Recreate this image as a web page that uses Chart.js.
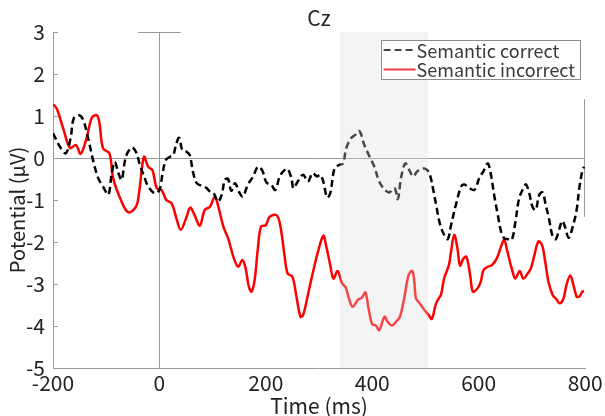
<!DOCTYPE html>
<html><head><meta charset="utf-8">
<script src="https://cdn.jsdelivr.net/npm/chart.js@4"></script>
<style>html,body{margin:0;padding:0;background:#fff}canvas{display:block}</style>
</head><body>
<canvas id="c" width="605" height="416"></canvas>
<script>
const chartTitle = 'Cz';
const xAxisTitle = 'Time (ms)';
const yAxisTitle = 'Potential (\u03BCV)';
const seriesLabels = ['Semantic correct', 'Semantic incorrect'];
const xTickValues = [-200, 0, 200, 400, 600, 800];
const yTickValues = [-5, -4, -3, -2, -1, 0, 1, 2, 3];
const windowRange = [340, 505];

const correctTimes = [-200,-187,-176,-167,-161,-151,-143,-134,-124,-115,-106,-96,-90,-84,-77,-71,-63,-52,-44,-37,-27,-21,-9,0,6,12,20,26,31,37,43,51,57,63,70,79,88,95,102,110,117,123,129,135,142,151,157,166,176,185,193,201,210,218,226,235,241,248,252,260,270,279,288,296,302,308,315,321,329,337,345,351,360,368,376,385,395,404,413,423,432,442,448,454,462,470,477,485,498,507,514,520,527,535,542,548,557,567,573,582,592,601,609,617,623,629,636,642,648,654,662,669,676,684,689,695,701,707,714,720,726,732,739,745,751,757,762,769,776,784,789,795,798];
const correctValues = [0.59,0.27,0.11,0.47,0.94,1.02,0.90,0.47,-0.09,-0.48,-0.68,-0.87,-0.40,-0.09,-0.36,-0.52,0.03,0.25,0.14,-0.15,-0.50,-0.68,-0.84,-0.76,-0.36,-0.05,0.03,0.07,0.31,0.48,0.19,0.15,0.07,-0.33,-0.60,-0.66,-0.71,-0.80,-0.84,-1.04,-0.88,-0.52,-0.50,-0.78,-0.60,-0.84,-0.92,-0.64,-0.44,-0.21,-0.29,-0.58,-0.64,-0.76,-0.44,-0.29,-0.26,-0.48,-0.72,-0.56,-0.40,-0.56,-0.36,-0.44,-0.40,-0.56,-0.94,-0.84,-0.25,-0.17,-0.13,0.23,0.47,0.55,0.64,0.31,0.03,-0.21,-0.56,-0.75,-0.82,-0.72,-0.98,-0.48,-0.13,-0.30,-0.44,-0.31,-0.25,-0.36,-0.72,-1.12,-1.56,-1.83,-1.93,-1.60,-1.12,-0.68,-0.63,-0.71,-0.76,-0.48,-0.31,-0.13,-0.40,-0.88,-1.36,-1.75,-1.91,-1.93,-1.95,-1.52,-0.96,-0.72,-0.63,-0.84,-1.16,-1.24,-0.87,-0.82,-1.12,-1.44,-1.87,-1.93,-1.71,-1.50,-1.63,-1.90,-1.67,-1.24,-0.72,-0.29,-0.21];

const incorrectTimes = [-200,-193,-181,-168,-157,-148,-137,-127,-118,-113,-106,-94,-87,-74,-59,-44,-38,-29,-21,-13,-5,4,13,23,32,40,50,58,66,76,85,95,104,110,120,129,140,148,156,162,168,173,179,185,191,200,207,220,227,235,241,250,257,265,270,279,288,298,308,313,321,327,335,343,350,356,363,373,381,387,393,400,407,413,423,429,437,446,452,460,468,475,479,482,488,498,506,512,519,523,529,535,544,548,554,560,565,571,577,584,589,598,604,609,617,625,634,642,648,654,662,669,677,684,692,698,704,712,719,725,731,739,746,752,759,765,772,778,784,789,795,798];
const incorrectValues = [1.28,1.18,0.71,0.24,0.31,0.10,0.47,0.96,1.02,0.86,0.23,0.11,-0.48,-0.95,-1.29,-1.16,-0.80,0.03,-0.21,-0.29,-0.72,-0.76,-1.00,-1.08,-1.44,-1.71,-1.44,-1.18,-1.36,-1.61,-1.24,-1.16,-0.92,-1.12,-1.63,-1.91,-2.39,-2.59,-2.43,-2.63,-3.06,-3.18,-2.90,-2.15,-1.63,-1.60,-1.40,-1.36,-1.60,-2.31,-2.75,-2.83,-3.26,-3.78,-3.74,-3.26,-2.75,-2.23,-1.85,-2.07,-2.55,-2.87,-2.69,-2.98,-3.08,-3.34,-3.54,-3.38,-3.32,-3.20,-3.58,-3.96,-3.99,-4.10,-3.78,-3.90,-3.99,-3.88,-3.78,-3.34,-2.80,-2.69,-2.94,-3.34,-3.44,-3.62,-3.74,-3.83,-3.50,-3.38,-3.26,-2.87,-2.55,-2.23,-1.83,-2.15,-2.56,-2.40,-2.35,-2.79,-3.18,-3.10,-2.94,-2.67,-2.59,-2.55,-2.39,-2.11,-1.95,-2.23,-2.63,-2.87,-2.69,-2.87,-2.75,-2.63,-2.35,-1.99,-2.07,-2.47,-2.94,-3.26,-3.36,-3.46,-3.36,-3.02,-2.80,-3.02,-3.30,-3.30,-3.18,-3.17];

const topMarkSpan = [-40, 40];
const rightMarkSpan = [1.4, -1.4];

const FONT = '"Noto Sans CJK JP", "Noto Sans", sans-serif';
const GRAY = '#9a9a9a';
const TEXT = '#222';

function pts(ts, vs) { return ts.map((t, i) => ({ x: t, y: vs[i] })); }

const decor = {
  id: 'decor',
  beforeDatasetsDraw(chart) {
    const { ctx, scales: { x, y } } = chart;
    ctx.save();
    ctx.strokeStyle = GRAY; ctx.lineWidth = 1;
    ctx.beginPath();
    yTickValues.forEach(v => {
      const py = Math.round(y.getPixelForValue(v)) + 0.5;
      ctx.moveTo(x.left, py); ctx.lineTo(x.left + 5, py);
    });
    const ty = Math.round(y.getPixelForValue(3)) + 0.5;
    ctx.moveTo(x.getPixelForValue(topMarkSpan[0]), ty);
    ctx.lineTo(x.getPixelForValue(topMarkSpan[1]), ty);
    const rx = Math.round(x.getPixelForValue(800)) - 0.5;
    ctx.moveTo(rx, y.getPixelForValue(rightMarkSpan[0]));
    ctx.lineTo(rx, y.getPixelForValue(rightMarkSpan[1]));
    ctx.stroke();
    ctx.restore();
  },
  afterDatasetsDraw(chart) {
    const { ctx, scales: { x, y } } = chart;
    ctx.save();
    const x1 = x.getPixelForValue(windowRange[0]), x2 = x.getPixelForValue(windowRange[1]);
    ctx.fillStyle = 'rgba(220,220,220,0.32)';
    ctx.fillRect(x1, y.top, x2 - x1, y.bottom - y.top);
    ctx.font = '18px ' + FONT;
    const tw = Math.max(...seriesLabels.map(s => ctx.measureText(s).width));
    const sample = 32;
    const bw = sample + 4 + tw + 4, bh = 39;
    const bx = x.right - 6 - bw, by = y.top + 8;
    ctx.fillStyle = '#fff';
    ctx.fillRect(bx, by, bw, bh);
    ctx.strokeStyle = '#8c8c8c'; ctx.lineWidth = 1;
    ctx.strokeRect(Math.round(bx) + 0.5, Math.round(by) + 0.5, Math.round(bw), bh);
    chart.data.datasets.forEach((d, i) => {
      const ry = by + 10 + i * 19.5;
      ctx.beginPath();
      ctx.strokeStyle = i === 0 ? '#444' : '#f04040';
      ctx.lineWidth = 2.2;
      ctx.setLineDash(d.borderDash || []);
      ctx.moveTo(bx + 3, ry); ctx.lineTo(bx + 3 + sample, ry);
      ctx.stroke();
      ctx.setLineDash([]);
      ctx.fillStyle = '#3a3a3a';
      ctx.textBaseline = 'middle'; ctx.textAlign = 'left';
      ctx.fillText(seriesLabels[i], bx + sample + 4, ry + 1);
    });
    ctx.restore();
  },
  afterDraw(chart) {
    const { ctx, scales: { x, y } } = chart;
    ctx.save();
    ctx.fillStyle = TEXT;
    ctx.textAlign = 'center'; ctx.textBaseline = 'middle';
    ctx.font = '21px ' + FONT;
    ctx.fillText(chartTitle, (x.left + x.right) / 2, y.top - 14);
    ctx.font = '20px ' + FONT;
    ctx.translate(17, (y.top + y.bottom) / 2 + 10);
    ctx.rotate(-Math.PI / 2);
    ctx.fillText(yAxisTitle, 0, 0);
    ctx.restore();
  }
};

new Chart(document.getElementById('c'), {
  type: 'line',
  data: {
    datasets: [
      { label: seriesLabels[0], data: pts(correctTimes, correctValues), borderColor: '#000', borderWidth: 2.5, borderDash: [7, 4], pointRadius: 0, tension: 0.35, fill: false },
      { label: seriesLabels[1], data: pts(incorrectTimes, incorrectValues), borderColor: '#ff0000', borderWidth: 2.5, pointRadius: 0, tension: 0.35, fill: false }
    ]
  },
  options: {
    responsive: false, animation: false, devicePixelRatio: 1,
    layout: { padding: { top: 32, right: 19, left: 0, bottom: 0 } },
    plugins: {
      legend: { display: false }, tooltip: { enabled: false }, title: { display: false }
    },
    scales: {
      x: {
        type: 'linear', min: -200, max: 800,
        afterBuildTicks: s => { s.ticks = xTickValues.map(v => ({ value: v })); },
        afterFit: s => { s.height = 48; },
        ticks: { color: TEXT, padding: 2.4, font: { family: FONT, size: 21, lineHeight: 1.2 }, maxRotation: 0, autoSkip: false },
        grid: { drawTicks: false, color: c => (c.tick && c.tick.value === 0 ? GRAY : 'rgba(0,0,0,0)'), lineWidth: 1 },
        border: { display: true, color: GRAY, width: 1 },
        title: { display: true, text: xAxisTitle, color: TEXT, font: { family: FONT, size: 21, lineHeight: 0.97 }, padding: 0 }
      },
      y: {
        type: 'linear', min: -5, max: 3,
        afterBuildTicks: s => { s.ticks = yTickValues.map(v => ({ value: v })); },
        afterFit: s => { s.width = 53; },
        ticks: { color: TEXT, padding: 8, font: { family: FONT, size: 21 } },
        grid: { drawTicks: false, color: c => (c.tick && c.tick.value === 0 ? GRAY : 'rgba(0,0,0,0)'), lineWidth: 1 },
        border: { display: true, color: GRAY, width: 1 },
        title: { display: false }
      }
    }
  },
  plugins: [decor]
});
</script>
</body></html>
